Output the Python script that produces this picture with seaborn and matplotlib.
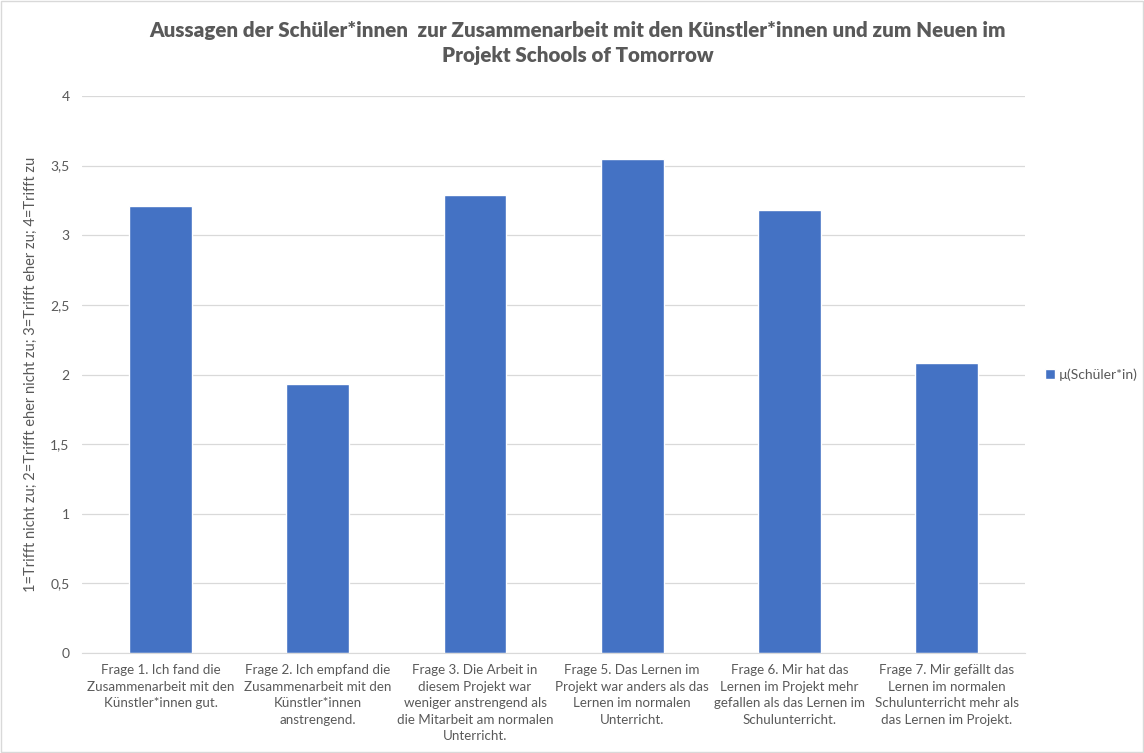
import numpy as np
import pandas as pd
import matplotlib
matplotlib.use("Agg")
import matplotlib.pyplot as plt
import seaborn as sns

# Data
fragen = [
    "Frage 1. Ich fand die\nZusammenarbeit mit den\nKünstler*innen gut.",
    "Frage 2. Ich empfand die\nZusammenarbeit mit den\nKünstler*innen\nanstrengend.",
    "Frage 3. Die Arbeit in\ndiesem Projekt war\nweniger anstrengend als\ndie Mitarbeit am normalen\nUnterricht.",
    "Frage 5. Das Lernen im\nProjekt war anders als das\nLernen im normalen\nUnterricht.",
    "Frage 6. Mir hat das\nLernen im Projekt mehr\ngefallen als das Lernen im\nSchulunterricht.",
    "Frage 7. Mir gefällt das\nLernen im normalen\nSchulunterricht mehr als\ndas Lernen im Projekt.",
]
mittelwerte = [3.21, 1.93, 3.29, 3.55, 3.18, 2.08]
serie = "µ(Schüler*in)"
y_ticks = [0, 0.5, 1, 1.5, 2, 2.5, 3, 3.5, 4]

df = pd.DataFrame({"Frage": fragen, "Wert": mittelwerte})

sns.set_style("white")
plt.rcParams["font.family"] = ["Lato", "DejaVu Sans"]
grey = "#595959"

fig = plt.figure(figsize=(11.44, 7.53), dpi=100)
ax = fig.add_axes([0.0717, 0.1328, 0.8245, 0.7397])

sns.barplot(data=df, x="Frage", y="Wert", color="#4472C4", width=0.4,
            saturation=1, label=serie, ax=ax)

ax.set_ylim(0, 4)
ax.set_yticks(y_ticks)
ax.set_yticklabels([f"{t:g}".replace(".", ",") for t in y_ticks], color=grey, fontsize=10)
ax.set_xticks(range(len(fragen)))
ax.set_xticklabels(fragen, linespacing=1.45)
ax.tick_params(axis="x", colors=grey, labelsize=9.6, length=0, pad=8)
ax.tick_params(axis="y", length=0, pad=9)
ax.yaxis.grid(True, color="#d9d9d9", linewidth=0.9)
ax.set_axisbelow(True)
for s in ["top", "right", "left"]:
    ax.spines[s].set_visible(False)
ax.spines["bottom"].set_color("#d9d9d9")
ax.set_xlabel("")
ax.set_ylabel("1=Trifft nicht zu; 2=Trifft eher nicht zu; 3=Trifft eher zu; 4=Trifft zu",
              color=grey, fontsize=10.5)
ax.yaxis.set_label_coords(-0.047, 0.5)

fig.suptitle("Aussagen der Schüler*innen  zur Zusammenarbeit mit den Künstler*innen und zum Neuen im\nProjekt Schools of Tomorrow",
             x=0.505, y=0.972, fontsize=14.8, fontweight="heavy", color=grey, linespacing=1.4)

ax.legend(loc="center left", bbox_to_anchor=(1.008, 0.5), frameon=False,
          fontsize=10, labelcolor=grey, handlelength=0.7, handleheight=0.7,
          handletextpad=0.3)

# thin chart border like the source
fig.patches.append(plt.Rectangle((0.001, 0.001), 0.998, 0.998, transform=fig.transFigure,
                                 fill=False, edgecolor="#d9d9d9", linewidth=1))

fig.savefig("out.png", dpi=100)
